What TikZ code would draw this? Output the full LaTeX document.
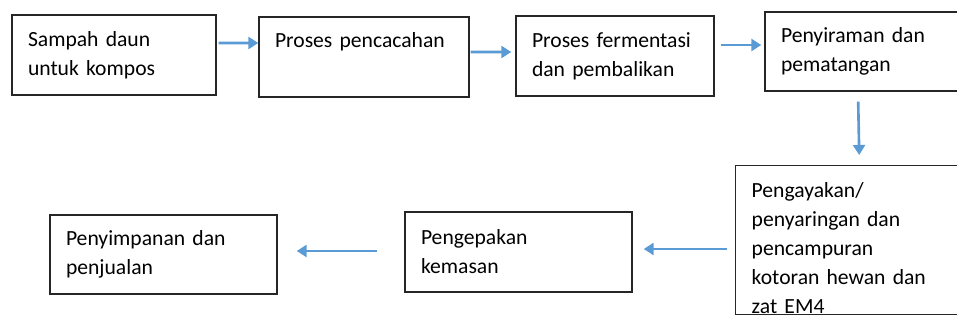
\documentclass[tikz,border=0pt]{standalone}
\usepackage{fontspec}
\setmainfont{Carlito}
\usepackage{xcolor}
\usetikzlibrary{arrows.meta, positioning}

\definecolor{flowblue}{RGB}{91,155,213}
\hyphenpenalty=10000

\begin{document}
\begin{tikzpicture}[
    % ── Process box style ────────────────────────────────────────────
    box/.style={
        draw=black!85, rectangle, line width=0.8pt,
        inner xsep=0.32cm, inner ysep=0.2cm, minimum height=1.6cm,
        align=left, font=\fontsize{12.3}{16.5}\selectfont
    },
    % ── Flow arrows: blue ────────────────────────────────────────────
    flow/.style={line width=1.5pt, draw=flowblue,
                 -{Triangle[length=0.2cm, width=0.24cm]}}
]

    \clip (0,0) rectangle (19.14,-6.70);

% ══════════════════════════════════════════════════════════════════════
% NODE PLACEMENT
% ══════════════════════════════════════════════════════════════════════

    % ── Top row ──────────────────────────────────────────────────
    \node[box, text width=3.44cm] (b1) at (2.28, -1.10) {
        Sampah daun\\untuk kompos
    };
    \node[box, text width=3.56cm, text height=0.32cm, text depth=0.68cm]
        (b2) at (7.28, -1.14) {
        Proses pencacahan
    };
    \node[box, text width=3.32cm] (b3) at (12.30, -1.12) {
        Proses fermentasi\\dan pembalikan
    };
    \node[box, text width=3.36cm, minimum height=1.58cm] (b4) at (17.30, -1.03) {
        Penyiraman dan\\pematangan
    };

    % ── Bottom row ───────────────────────────────────────────────
    \node[box, text width=3.96cm, anchor=north west, minimum height=0pt,
          inner ysep=0.34cm, text depth=2cm] (b5) at (14.70, -3.30) {
        Pengayakan/\\penyaringan dan\\pencampuran\\kotoran hewan dan\\zat EM4
    };
    \node[box, text width=3.90cm] (b6) at (10.37, -5.04) {
        Pengepakan\\kemasan
    };
    \node[box, text width=3.90cm, minimum height=1.58cm] (b7) at (3.27, -5.09) {
        Penyimpanan dan\\penjualan
    };

% ══════════════════════════════════════════════════════════════════════
% CONNECTIONS
% ══════════════════════════════════════════════════════════════════════

    \draw[flow, shorten <=0.04cm]
        ([yshift=0.24cm]b1.east) -- ([yshift=0.28cm]b2.west);

    \draw[flow, shorten <=0.02cm, shorten >=0.08cm]
        ([yshift=0.10cm]b2.east) -- ([yshift=0.08cm]b3.west);

    \draw[flow, shorten <=0.12cm, shorten >=0.06cm]
        ([yshift=0.22cm]b3.east) -- ([yshift=0.13cm]b4.west);

    \draw[flow, shorten <=0.20cm, shorten >=0.20cm]
        ([xshift=-0.14cm]b4.south) -- ([xshift=-2.14cm]b5.north east);

    \coordinate (a5) at ([yshift=0.06cm]b6.east);
    \draw[flow, shorten <=0.16cm, shorten >=0.22cm]
        (a5 -| b5.west) -- (a5);

    \draw[flow, shorten <=0.54cm, shorten >=0.38cm]
        ([yshift=0.02cm]b6.west) -- ([yshift=0.07cm]b7.east);

\end{tikzpicture}
\end{document}
